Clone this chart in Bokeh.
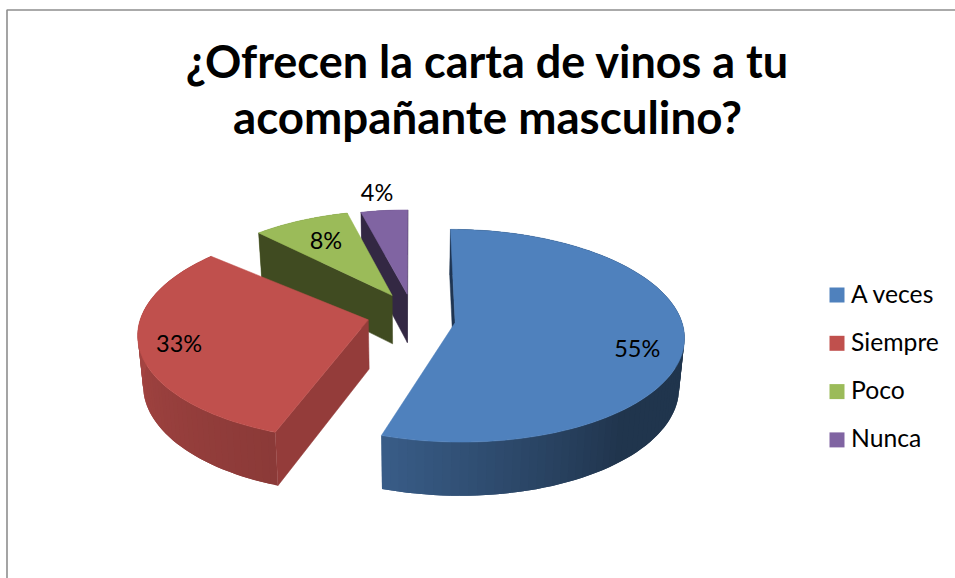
import numpy as np
from bokeh.core.properties import value
from bokeh.embed import file_html
from bokeh.models import Range1d
from bokeh.plotting import figure
from bokeh.resources import INLINE

title_lines = ["¿Ofrecen la carta de vinos a tu", "acompañante masculino?"]
categories = ["A veces", "Siempre", "Poco", "Nunca"]
percent = [55, 33, 8, 4]
colors = ["#4f81bd", "#c0504d", "#9bbb59", "#8064a2"]
cut_walls = ["#1f3552", "#943c3a", "#404b21", "#332843"]

# projection of the tilted pie
CX, CY, RX, RY, PERSP, DEPTH, SHRINK = 410, 315, 230, 105.8, 0.125, 49, 0.02
EXPLODE = 0.187
FONT = value("Lato")

# per-slice fit of the exploded pieces to the perspective of the reference
shift_x = [2, 0, 2, 2]
shift_y = [4, 0, -3, -2]
radius = [0.983, 0.987, 0.93, 0.93]
inset_start = [0, 1.8, -1, 0]
inset_end = [0, 6.2, 0, 0]
label_r = [0.795, 0.82, 0.667, 1.17]
label_dtheta = [8, -2.5, 0, -0.5]


def project(u, v, h=0.0):
    u, v = np.asarray(u, float), np.asarray(v, float)
    w = 1 - PERSP * v
    s = 1 - SHRINK * h
    return CX + RX * u * s / w, CY + (RY * v * s + DEPTH * h) / w


def shade(hex_color, f):
    rgb = [int(hex_color[i:i + 2], 16) for i in (1, 3, 5)]
    return "#%02x%02x%02x" % tuple(int(round(c * f)) for c in rgb)


def rim_factor(deg):
    return np.interp(deg, [0, 140, 198, 270, 360], [0.41, 0.41, 0.72, 0.86, 0.7])


def signed_area(xs, ys):
    return sum(xs[k] * ys[(k + 1) % len(xs)] - xs[(k + 1) % len(xs)] * ys[k] for k in range(len(xs)))


p = figure(width=955, height=578, x_range=Range1d(0, 955), y_range=Range1d(578, 0),
           x_axis_location=None, y_axis_location=None, toolbar_location=None,
           output_backend="svg", min_border=0, outline_line_color=None, margin=0)
p.grid.visible = False

p.line([6.5, 6.5, 955], [578, 9.5, 9.5], line_color="#8e8e8e", line_width=1.6)

# slices from back to front
edges = np.concatenate([[0], np.cumsum(percent)]) / sum(percent) * 360.0
labels = {}
for i in [3, 2, 1, 0]:
    a0, a1 = edges[i], edges[i + 1]
    mid = np.radians((a0 + a1) / 2)
    ou, ov = EXPLODE * np.sin(mid), -EXPLODE * np.cos(mid)
    sx, sy, r = shift_x[i], shift_y[i], radius[i]
    th = np.radians(np.linspace(a0 + inset_start[i], a1 - inset_end[i], int(max(a1 - a0, 8) / 2) + 2))
    us, vs = ou + r * np.sin(th), ov - r * np.cos(th)

    # outer rim as overlapping shaded strips
    xs, ys, cs = [], [], []
    xt, yt = project(us, vs, 0)
    xb, yb = project(us, vs, 1)
    xt, yt, xb, yb = xt + sx, yt + sy, xb + sx, yb + sy
    for j in range(len(th) - 1):
        k = min(j + 2, len(th) - 1)
        xs.append([xt[j], xt[j + 1], xt[k], xb[k], xb[j + 1], xb[j]])
        ys.append([yt[j], yt[j + 1], yt[k], yb[k], yb[j + 1], yb[j]])
        cs.append(shade(colors[i], float(rim_factor(np.degrees((th[j] + th[j + 1]) / 2)))))
    p.patches(xs, ys, fill_color=cs, line_color=None)

    # cut faces that look towards the viewer
    for t, sign in ((th[0], -1), (th[-1], 1)):
        ue, ve = ou + r * np.sin(t), ov - r * np.cos(t)
        x1, y1 = project([ou, ue], [ov, ve], 0)
        x2, y2 = project([ue, ou], [ve, ov], 1)
        wx = [float(q) + sx for q in list(x1) + list(x2)]
        wy = [float(q) + sy for q in list(y1) + list(y2)]
        if signed_area(wx, wy) * sign > 0:
            p.patch(wx, wy, fill_color=cut_walls[i], line_color=cut_walls[i], line_width=0.5)

    # top face
    xa, ya = project([ou], [ov], 0)
    p.patch([xa[0] + sx] + list(xt), [ya[0] + sy] + list(yt), fill_color=colors[i],
            line_color=colors[i], line_width=0.5)

    la = np.radians((a0 + a1) / 2 + label_dtheta[i])
    lx, ly_ = project(ou + label_r[i] * np.sin(la), ov - label_r[i] * np.cos(la), 0)
    labels[i] = (float(lx) + sx, float(ly_) + sy)

order = range(len(percent))
p.text([labels[i][0] for i in order], [labels[i][1] for i in order],
       text=[f"{v}%" for v in percent], text_font=FONT, text_font_size="23.5px",
       text_align="center", text_baseline="middle", text_color="#000000")

# title
for line, base, size in zip(title_lines, [60, 116], ["45px", "45.7px"]):
    p.text([487], [base], text=[line], text_font=FONT, text_font_size=size,
           text_font_style="bold", text_align="center", text_baseline="alphabetic",
           text_color="#000000")

# legend
LEG_X, LEG_Y, LEG_STEP = 836.5, 294.5, 48.3
ly = [LEG_Y + i * LEG_STEP for i in order]
p.rect([LEG_X] * 4, ly, width=15, height=15, fill_color=colors, line_color=None)
p.text([LEG_X + 14] * 4, [y - 2 for y in ly], text=categories, text_font=FONT, text_font_size="24.7px",
       text_align="left", text_baseline="middle", text_color="#000000")

open("out.html", "w").write(file_html(p, INLINE))
